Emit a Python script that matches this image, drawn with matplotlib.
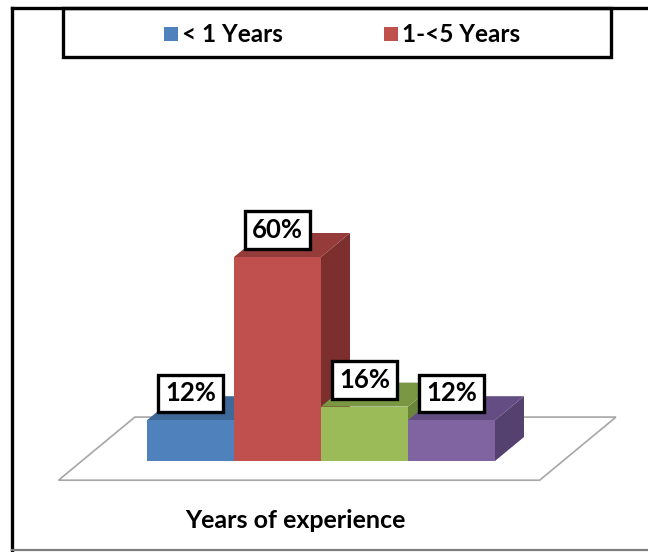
import matplotlib
matplotlib.use("Agg")
import matplotlib.pyplot as plt
from matplotlib.patches import Polygon, Rectangle

# ---- data ----
values = [12, 60, 16, 12]
value_labels = ["12%", "60%", "16%", "12%"]
legend_labels = ["< 1 Years", "1-<5 Years"]
axis_title = "Years of experience"

# ---- styling ----
front_colors = ["#4F81BD", "#C0504D", "#9BBB59", "#8064A2"]
top_colors = ["#3D6898", "#953C3A", "#7A9844", "#634D82"]
side_colors = ["#335884", "#7C2F2D", "#6A853A", "#54416F"]

plt.rcParams['font.family'] = ['Lato', 'DejaVu Sans']

W, H = 648, 552
fig = plt.figure(figsize=(W / 100, H / 100), dpi=100)

# plot axes: one x unit per bar slot, y in percent
px_per_x = 87.0
px_per_y = 3.4
x0_px = 147.0
y0_px = 461.0
ax = fig.add_axes([0, 0, 1, 1])
ax.set_xlim(-x0_px / px_per_x, (W - x0_px) / px_per_x)
ax.set_ylim(-(H - y0_px) / px_per_y, y0_px / px_per_y)
ax.axis('off')

# oblique projection of the depth axis
DX = 29 / px_per_x
DY = 24 / px_per_y


def proj(x, y, d):
    return (x + d * DX, y + d * DY)


# floor
n = len(values)
fx0, fx1 = -0.75, n + 0.78
fd0, fd1 = -0.8, 1.83
floor = [proj(fx0, 0, fd0), proj(fx1, 0, fd0), proj(fx1, 0, fd1), proj(fx0, 0, fd1)]
ax.add_patch(Polygon(floor, closed=True, facecolor='white', edgecolor='#A6A6A6',
                     linewidth=1.2, zorder=1))

# bars, drawn left to right so nearer bars cover the side faces
for i, v in enumerate(values):
    side = [proj(i + 1, 0, 0), proj(i + 1, 0, 1), proj(i + 1, v, 1), proj(i + 1, v, 0)]
    top = [proj(i, v, 0), proj(i + 1, v, 0), proj(i + 1, v, 1), proj(i, v, 1)]
    z = 2 + i
    ax.add_patch(Polygon(side, closed=True, facecolor=side_colors[i], edgecolor='none', zorder=z))
    ax.add_patch(Polygon(top, closed=True, facecolor=top_colors[i], edgecolor='none', zorder=z))
    ax.add_patch(Rectangle((i, 0), 1, v, facecolor=front_colors[i], edgecolor='none', zorder=z))

for i, (v, lab) in enumerate(zip(values, value_labels)):
    ax.text(i + 0.5, v + DY + 0.8, lab, ha='center', va='center', fontsize=18.5,
            fontweight='bold', color='black', zorder=20,
            bbox=dict(boxstyle='square,pad=0.27', facecolor='white',
                      edgecolor='black', linewidth=2.4))

# overlay in pixel units for frame, legend and title
ov = fig.add_axes([0, 0, 1, 1], zorder=5)
ov.set_xlim(0, W)
ov.set_ylim(H, 0)
ov.axis('off')
ov.patch.set_alpha(0)

ov.plot([12, 12], [8, 552], color='black', lw=2.4, solid_capstyle='projecting')
ov.plot([12, W], [8, 8], color='black', lw=2.4, solid_capstyle='projecting')
ov.plot([12, W], [550, 550], color='#7F7F7F', lw=1.6)

# legend
ov.add_patch(Rectangle((63, 8), 548, 49, facecolor='white', edgecolor='black', lw=2.4))
legend_entries = [(164, legend_labels[0], front_colors[0]),
                  (384, legend_labels[1], front_colors[1])]
for x, lab, col in legend_entries:
    ov.add_patch(Rectangle((x, 27), 14, 14, facecolor=col, edgecolor='none'))
    ov.text(x + 18, 34, lab, ha='left', va='center', fontsize=17.5,
            fontweight='bold', color='black')

ov.text(295, 520, axis_title, ha='center', va='center', fontsize=18,
        fontweight='bold', color='black')

fig.savefig('out.png', dpi=100)
